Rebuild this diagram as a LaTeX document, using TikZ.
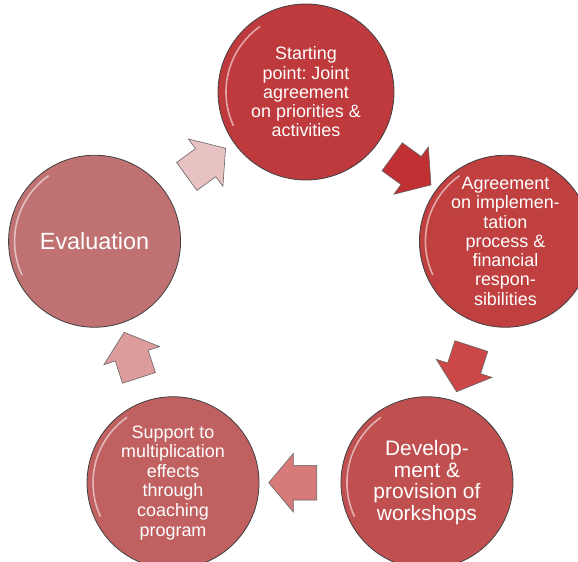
\documentclass[tikz,border=0pt]{standalone}
\usepackage{fontspec}
\setmainfont{Liberation Sans}
\usetikzlibrary{shapes.arrows,positioning,calc}
\frenchspacing

\definecolor{startred}{RGB}{190,58,60}
\definecolor{agreered}{RGB}{192,64,64}
\definecolor{devred}{RGB}{192,80,80}
\definecolor{supportred}{RGB}{192,96,96}
\definecolor{evalred}{RGB}{192,114,114}
\definecolor{turnA}{RGB}{192,48,50}
\definecolor{turnB}{RGB}{204,72,72}
\definecolor{turnC}{RGB}{214,122,122}
\definecolor{turnD}{RGB}{220,156,156}
\definecolor{turnE}{RGB}{232,194,194}

\begin{document}
\begin{tikzpicture}
[x=1bp,y=1bp%
,stage/.style={circle,%
               draw=black!75,%
               line width=0.8bp,%
               minimum size=172bp,%
               inner sep=0pt,%
               text=white,%
               align=center,%
               font=\fontsize{18}{19.3}\selectfont,%
               path picture={\draw[white,opacity=.55,line width=1.6bp]
                  ([shift={(205:80bp)}]path picture bounding box.center)
                  arc (205:125:80bp);}}%
,turn/.style={single arrow,%
              draw=black!60,%
              line width=0.6bp,%
              inner xsep=0pt,%
              inner ysep=17bp,%
              minimum height=48bp,%
              single arrow head extend=12bp,%
              single arrow tip angle=100}]
\useasboundingbox (-300,-254) rectangle (278,308);

% stages of the cycle
\node[stage,fill=startred,minimum size=176bp] (start) at (6,216)
  {Starting\\ point: Joint\\ agreement\\ on priorities \&\\ activities};
\node[stage,fill=agreered] (agree) at (18:216)
  {Agreement\\ on implemen-\\ tation\\ process \&\\ financial\\ respon-\\ sibilities};
\node[stage,fill=devred,font=\fontsize{21}{21.7}\selectfont] (develop) at (-54:216)
  {Develop-\\ ment \&\\ provision of\\ workshops};
\node[stage,fill=supportred,font=\fontsize{18}{19.7}\selectfont] (support) at (-126:216)
  {Support to\\ multiplication\\ effects\\ through\\ coaching\\ program};
\node[stage,fill=evalred,font=\fontsize{23.5}{26}\selectfont] (evaluation) at (162:216)
  {Evaluation};

% arrows between stages
\node[turn,fill=turnA,rotate=-36] (turn1) at ($(start)!0.5!(agree)$) {};
\node[turn,fill=turnB,rotate=-108] (turn2) at ($(agree)!0.5!(develop)$) {};
\node[turn,fill=turnC,rotate=180] (turn3) at ($(develop)!0.5!(support)$) {};
\node[turn,fill=turnD,rotate=108] (turn4) at ($(support)!0.5!(evaluation)$) {};
\node[turn,fill=turnE,rotate=36] (turn5) at ($(evaluation)!0.5!(start)$) {};
\end{tikzpicture}
\end{document}
